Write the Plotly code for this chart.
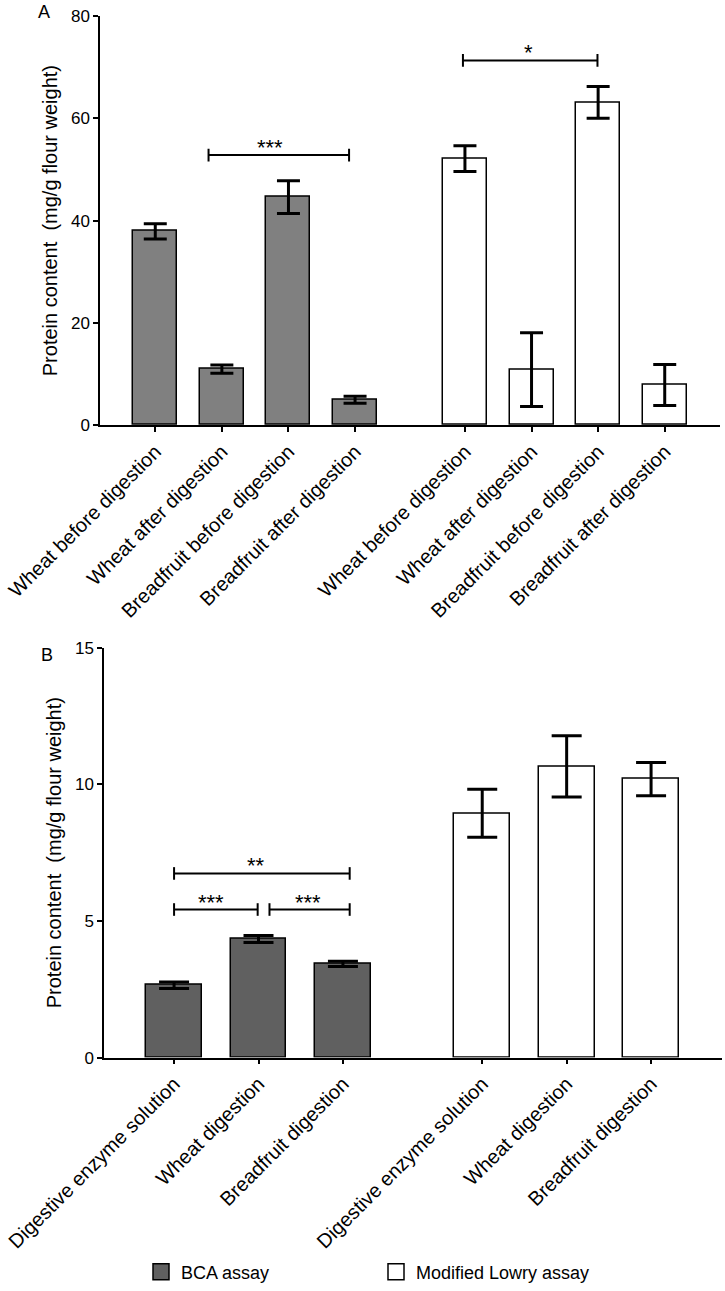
import plotly.graph_objects as go

# ---------------- data ----------------
cats_a = ["Wheat before digestion", "Wheat after digestion",
          "Breadfruit before digestion", "Breadfruit after digestion"]
bca_a = [37.9, 11.0, 44.6, 5.0]
bca_a_err = [1.5, 0.8, 3.2, 0.7]
lowry_a = [52.1, 10.9, 63.1, 7.9]
lowry_a_err = [2.5, 7.2, 3.1, 4.0]

cats_b = ["Digestive enzyme solution", "Wheat digestion", "Breadfruit digestion"]
bca_b = [2.65, 4.34, 3.43]
bca_b_err = [0.12, 0.13, 0.10]
lowry_b = [8.94, 10.66, 10.19]
lowry_b_err = [0.88, 1.12, 0.61]

yticks_a = [0, 20, 40, 60, 80]
yticks_b = [0, 5, 10, 15]

# significance brackets: (start, end, level, label, label_x)
sig_a = [(0.80, 2.91, 52.8, "***", 1.73), (4.62, 6.64, 71.3, "*", 5.60)]
sig_b = [(0.0, 0.99, 5.42, "***", 0.44), (1.13, 2.08, 5.42, "***", 1.59),
         (0.0, 2.08, 6.74, "**", 0.97)]

series_names = ["BCA assay", "Modified Lowry assay"]

# ---------------- style / page geometry ----------------
FONT = "Liberation Sans, Arial, sans-serif"
GROUP_OFFSET = 0.65
BAR_W = 0.66
W, H = 725, 1291


def xp(px):
    return px / W


def yp(py):
    return 1 - py / H


fig = go.Figure()


def positions(cats):
    first = list(range(len(cats)))
    second = [i + len(cats) + GROUP_OFFSET for i in range(len(cats))]
    return first, second


def add_panel(cats, bca, bca_err, lowry, lowry_err, color, xa, ya, capw):
    p1, p2 = positions(cats)
    fig.add_trace(go.Bar(x=p1, y=bca, width=BAR_W, marker=dict(color=color, line=dict(color="black", width=1.5)),
                         error_y=dict(type="data", array=bca_err, color="black", thickness=3, width=capw),
                         showlegend=False, xaxis=xa, yaxis=ya))
    fig.add_trace(go.Bar(x=p2, y=lowry, width=BAR_W, marker=dict(color="white", line=dict(color="black", width=1.5)),
                         error_y=dict(type="data", array=lowry_err, color="black", thickness=3, width=capw),
                         showlegend=False, xaxis=xa, yaxis=ya))
    return p1 + p2


def add_sig(sigs, xa, ya):
    for x0, x1, lvl, lab, lx in sigs:
        fig.add_trace(go.Scatter(x=[x0, x1], y=[lvl, lvl], mode="lines+markers",
                                 line=dict(color="black", width=2),
                                 marker=dict(symbol="line-ns-open", size=9, line=dict(color="black", width=2)),
                                 showlegend=False, hoverinfo="skip", xaxis=xa, yaxis=ya))
        fig.add_annotation(x=lx, y=lvl, xref=xa, yref=ya, text=lab, showarrow=False,
                           yanchor="bottom", yshift=-7, font=dict(size=22, color="black", family=FONT))


ticks_a = add_panel(cats_a, bca_a, bca_a_err, lowry_a, lowry_a_err, "#808080", "x", "y", 11.5)
ticks_b = add_panel(cats_b, bca_b, bca_b_err, lowry_b, lowry_b_err, "#606060", "x2", "y2", 15)
add_sig(sig_a, "x", "y")
add_sig(sig_b, "x2", "y2")

# legend entries
fig.add_trace(go.Scatter(x=[None], y=[None], mode="markers", name=series_names[0],
                         marker=dict(symbol="square", size=16, color="#606060", line=dict(color="black", width=1.5))))
fig.add_trace(go.Scatter(x=[None], y=[None], mode="markers", name=series_names[1],
                         marker=dict(symbol="square", size=16, color="white", line=dict(color="black", width=1.5))))

axis_common = dict(showline=True, linecolor="black", linewidth=1.5, ticks="outside", ticklen=5,
                   tickwidth=1.5, tickcolor="black", showgrid=False, zeroline=False, automargin=False,
                   ticklabeloverflow="allow",
                   tickfont=dict(size=17, color="black", family=FONT))

ytitle = "Protein content\u00a0 (mg/g flour weight)"
cat_font = dict(size=20, color="black", family=FONT)
title_font = dict(size=20, color="black", family=FONT)

fig.update_layout(
    template="none",
    width=W, height=H,
    margin=dict(l=0, r=0, t=0, b=0),
    paper_bgcolor="white", plot_bgcolor="white",
    font=dict(family=FONT, color="black"),
    bargap=0,
    xaxis=dict(axis_common, domain=[xp(100), xp(720)], range=[-0.83, 8.48],
               tickvals=ticks_a, ticktext=cats_a + cats_a, tickangle=-45,
               tickfont=cat_font, anchor="y"),
    yaxis=dict(axis_common, domain=[yp(429), yp(16)], range=[0, 80],
               tickvals=yticks_a, anchor="x",
               title=dict(text=ytitle, font=title_font, standoff=8)),
    xaxis2=dict(axis_common, domain=[xp(104), xp(722)], range=[-0.83, 6.49],
                tickvals=ticks_b, ticktext=cats_b + cats_b, tickangle=-45,
                tickfont=cat_font, anchor="y2"),
    yaxis2=dict(axis_common, domain=[yp(1066.7), yp(653.3)], range=[0, 15],
                tickvals=yticks_b, anchor="x2",
                title=dict(text=ytitle, font=title_font, standoff=8)),
    legend=dict(orientation="h", x=xp(141), y=yp(1283), xanchor="left", yanchor="middle",
                entrywidth=190, entrywidthmode="pixels", font=dict(size=18, family=FONT, color="black"),
                bgcolor="rgba(0,0,0,0)"),
)

fig.add_annotation(text="A", x=xp(36), y=yp(0), xref="paper", yref="paper", xanchor="left",
                   yanchor="top", showarrow=False, font=dict(size=18, family=FONT, color="black"))
fig.add_annotation(text="B", x=xp(39), y=yp(649), xref="paper", yref="paper", xanchor="left",
                   yanchor="top", showarrow=False, font=dict(size=18, family=FONT, color="black"))

fig.write_html("out.html", config={"displayModeBar": False},
               post_script="document.body.style.margin='0';document.body.style.overflow='hidden';")
